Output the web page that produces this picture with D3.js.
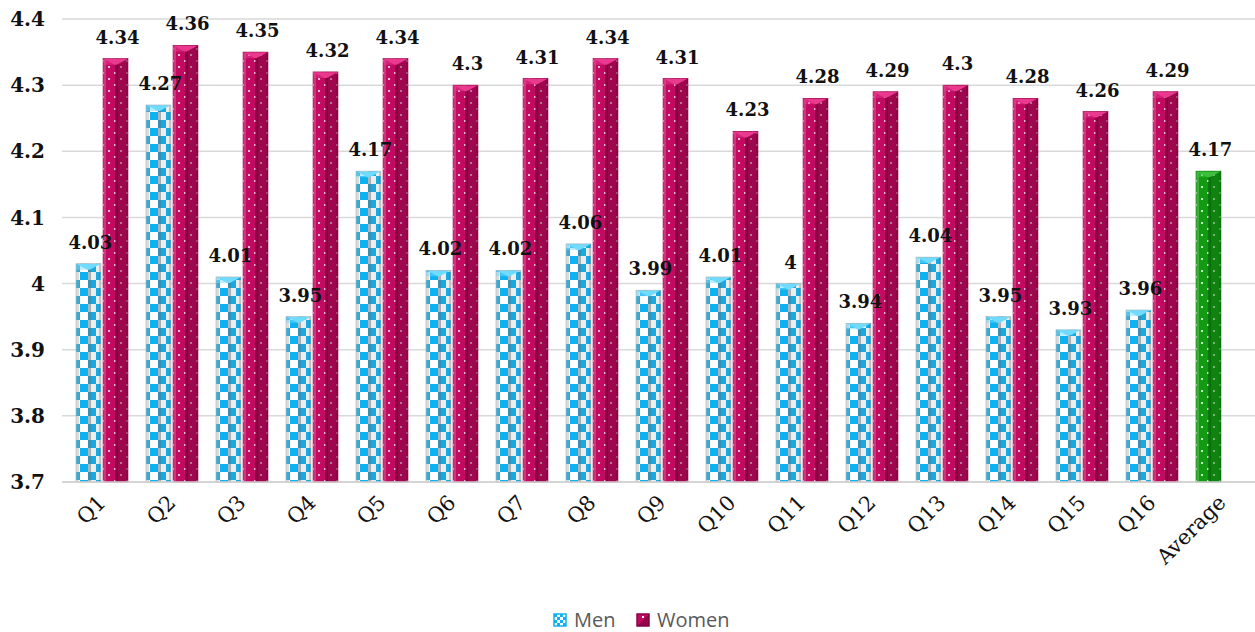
<!DOCTYPE html>
<html>
<head>
<meta charset="utf-8">
<script src="https://cdn.jsdelivr.net/npm/d3@7"></script>
<style>
  body { margin: 0; background: #fff; }
  svg { display: block; }
</style>
</head>
<body>
<div id="chart"></div>
<script>
// Data
const categories = ["Q1","Q2","Q3","Q4","Q5","Q6","Q7","Q8","Q9","Q10","Q11","Q12","Q13","Q14","Q15","Q16","Average"];
const menValues = [4.03,4.27,4.01,3.95,4.17,4.02,4.02,4.06,3.99,4.01,4,3.94,4.04,3.95,3.93,3.96,4.17];
const womenValues = [4.34,4.36,4.35,4.32,4.34,4.3,4.31,4.34,4.31,4.23,4.28,4.29,4.3,4.28,4.26,4.29,null];
const yTicks = [3.7,3.8,3.9,4,4.1,4.2,4.3,4.4];
const seriesNames = ["Men","Women"];

// Dimensions
const width = 1255;
const height = 632;
const plot = { left: 62, right: 1252, top: 19, bottom: 482 };

const serif = "'DejaVu Serif', 'Liberation Serif', serif";

const svg = d3.select("#chart").append("svg")
  .attr("width", width)
  .attr("height", height);

// Scales
const x = d3.scaleBand(categories, [plot.left, plot.right]);
const xSeries = d3.scaleBand(seriesNames, [14, 66]).paddingInner(4 / 52);
const y = d3.scaleLinear([3.7, 4.4], [plot.bottom, plot.top]);

// Patterns
const defs = svg.append("defs");
const cyan = "#0fb2f0";

const checker = defs.append("pattern")
  .attr("id", "checker").attr("patternUnits", "userSpaceOnUse")
  .attr("width", 16).attr("height", 16).attr("x", 4);
checker.append("rect").attr("width", 16).attr("height", 16).attr("fill", "#ffffff");
checker.append("rect").attr("width", 8).attr("height", 8).attr("fill", cyan);
checker.append("rect").attr("x", 8).attr("y", 8).attr("width", 8).attr("height", 8).attr("fill", cyan);

const checkerSmall = defs.append("pattern")
  .attr("id", "checkerSmall").attr("patternUnits", "userSpaceOnUse")
  .attr("width", 6).attr("height", 6);
checkerSmall.append("rect").attr("width", 6).attr("height", 6).attr("fill", "#ffffff");
checkerSmall.append("rect").attr("width", 3).attr("height", 3).attr("fill", cyan);
checkerSmall.append("rect").attr("x", 3).attr("y", 3).attr("width", 3).attr("height", 3).attr("fill", cyan);

function dotPattern(id, color) {
  const p = defs.append("pattern")
    .attr("id", id).attr("patternUnits", "userSpaceOnUse")
    .attr("width", 12).attr("height", 12).attr("x", 2).attr("y", 3);
  p.append("rect").attr("width", 12).attr("height", 12).attr("fill", color);
  p.append("rect").attr("x", 3).attr("y", 3).attr("width", 2).attr("height", 2)
    .attr("fill", "#fff").attr("opacity", 0.75);
  p.append("rect").attr("x", 9).attr("y", 9).attr("width", 2).attr("height", 2)
    .attr("fill", "#fff").attr("opacity", 0.75);
}
dotPattern("dotsWomen", "#c10a60");
dotPattern("dotsGreen", "#139a13");

// Gridlines
svg.append("g")
  .selectAll("line")
  .data(yTicks)
  .join("line")
  .attr("x1", plot.left)
  .attr("x2", width)
  .attr("y1", (d) => y(d))
  .attr("y2", (d) => y(d))
  .attr("stroke", "#d9d9d9")
  .attr("stroke-width", 1.5);

// Y axis labels
svg.append("g")
  .selectAll("text")
  .data(yTicks)
  .join("text")
  .attr("x", 45)
  .attr("y", (d) => y(d))
  .attr("dy", "0.36em")
  .attr("text-anchor", "end")
  .attr("font-family", serif)
  .attr("font-weight", "bold")
  .attr("font-size", 20)
  .attr("fill", "#111")
  .text((d) => String(d));

// Bars
const bars = [];
categories.forEach((c, i) => {
  bars.push({ cat: c, series: "Men", value: menValues[i], avg: c === "Average" });
  if (womenValues[i] != null) bars.push({ cat: c, series: "Women", value: womenValues[i], avg: false });
});

function barStyle(d) {
  if (d.avg) return { fill: "url(#dotsGreen)", dark: "#0a5e0a", cap: "#3cc03c", edge: "#0d7a0d" };
  if (d.series === "Men") return { fill: "url(#checker)", dark: "#5f6f78", cap: "#6fdcff", edge: "#a8b4ba" };
  return { fill: "url(#dotsWomen)", dark: "#6a0033", cap: "#ea3a8f", edge: "#a0084f" };
}

const barG = svg.append("g")
  .selectAll("g")
  .data(bars)
  .join("g")
  .attr("transform", (d) => `translate(${x(d.cat) + xSeries(d.series)},0)`);

barG.each(function (d) {
  const g = d3.select(this);
  const w = xSeries.bandwidth();
  const top = y(d.value);
  const h = plot.bottom - top;
  const s = barStyle(d);
  const men = d.series === "Men" && !d.avg;

  g.append("rect")
    .attr("y", top).attr("width", w).attr("height", h)
    .attr("fill", s.fill);

  // bevel shading: left light edge, darker right half
  g.append("rect")
    .attr("y", top).attr("width", 3).attr("height", h)
    .attr("fill", men ? "#9a9a9a" : "#fff").attr("opacity", men ? 0.35 : 0.18);
  g.append("rect")
    .attr("x", w * 0.55).attr("y", top).attr("width", w * 0.45).attr("height", h)
    .attr("fill", s.dark).attr("opacity", men ? 0.12 : 0.4);
  g.append("rect")
    .attr("x", w * 0.48).attr("y", top).attr("width", 3).attr("height", h)
    .attr("fill", s.dark).attr("opacity", men ? 0.5 : 0.55);
  g.append("rect")
    .attr("x", w - 2).attr("y", top).attr("width", 2).attr("height", h)
    .attr("fill", s.dark).attr("opacity", 0.3);

  // top cap
  g.append("path")
    .attr("d", `M0,${top} L${w},${top} L${w * 0.55},${top + 6} L${w * 0.45},${top + 6} Z`)
    .attr("fill", s.cap);
  g.append("path")
    .attr("d", `M0,${top} L${w * 0.45},${top + 6} L0,${top + 6} Z`)
    .attr("fill", s.cap).attr("opacity", 0.5);
  g.append("rect")
    .attr("y", top).attr("width", w).attr("height", h)
    .attr("fill", "none").attr("stroke", s.edge).attr("stroke-width", 0.6);
});

// Data labels
svg.append("g")
  .selectAll("text")
  .data(bars)
  .join("text")
  .attr("x", (d) => x(d.cat) + xSeries(d.series) + xSeries.bandwidth() / 2 + 2)
  .attr("y", (d) => y(d.value) - 15)
  .attr("text-anchor", "middle")
  .attr("font-family", serif)
  .attr("font-weight", "bold")
  .attr("font-size", 18)
  .attr("fill", "#111")
  .text((d) => String(d.value));

// X axis line
svg.append("line")
  .attr("x1", plot.left).attr("x2", width)
  .attr("y1", plot.bottom).attr("y2", plot.bottom)
  .attr("stroke", "#d0d0d0").attr("stroke-width", 1.5);

// X axis labels
svg.append("g")
  .selectAll("text")
  .data(categories)
  .join("text")
  .attr("transform", (d) => `translate(${x(d) + x.bandwidth() / 2 + 10},${plot.bottom + 22}) rotate(-45)`)
  .attr("text-anchor", "end")
  .attr("font-family", serif)
  .attr("font-size", 21)
  .attr("fill", "#111")
  .text((d) => d);

// Legend
const legend = svg.append("g").attr("transform", "translate(554,614)");
const legendItems = [
  { name: "Men", x: 0, fill: "url(#checkerSmall)", stroke: cyan },
  { name: "Women", x: 83, fill: "#c10a60", stroke: "#8a0545" },
];
legendItems.forEach((it) => {
  const g = legend.append("g").attr("transform", `translate(${it.x},0)`);
  g.append("rect").attr("width", 12).attr("height", 12)
    .attr("fill", it.fill).attr("stroke", it.stroke).attr("stroke-width", 1.5);
  if (it.name === "Women") {
    g.append("path").attr("d", "M12,0 L12,12 L0,12 Z").attr("fill", "#6a0033").attr("opacity", 0.5);
    g.append("rect").attr("x", 5).attr("y", 2).attr("width", 2).attr("height", 2).attr("fill", "#fff");
  }
  g.append("text")
    .attr("x", 20).attr("y", 13)
    .attr("font-family", "'Open Sans', 'Noto Sans', sans-serif")
    .attr("font-size", 20)
    .attr("fill", "#595959")
    .text(it.name);
});
</script>
</body>
</html>
